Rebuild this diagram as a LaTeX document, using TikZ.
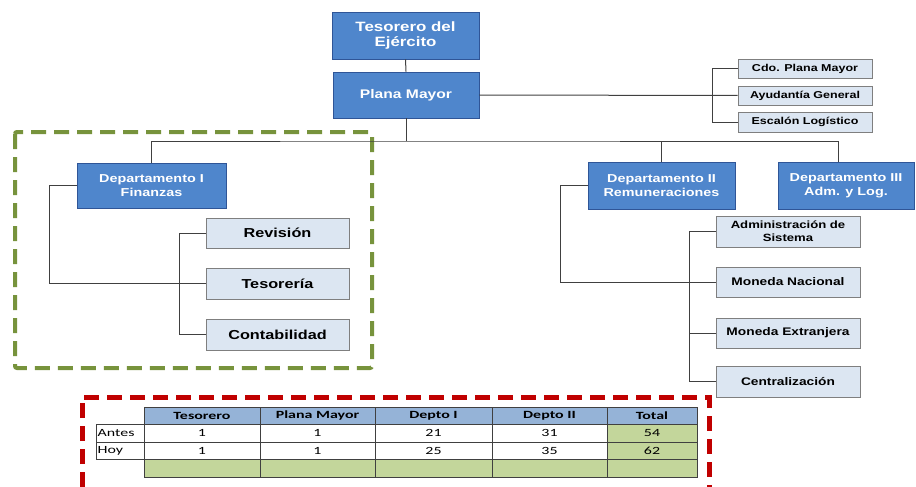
\documentclass[tikz,border=0pt]{standalone}
\usepackage{fontspec}
\setmainfont{Liberation Sans}[FakeStretch=1.25]
\newfontfamily\tabfont{Carlito}[FakeStretch=1.45]
\usetikzlibrary{calc}
\definecolor{boxblue}{HTML}{4F86CC}
\definecolor{boxblueedge}{HTML}{2F5597}
\definecolor{boxlight}{HTML}{DCE6F2}
\definecolor{boxgray}{HTML}{7F7F7F}
\definecolor{linkgray}{HTML}{404040}
\definecolor{grpgreen}{HTML}{77933C}
\definecolor{grpred}{HTML}{C00000}
\definecolor{headblue}{HTML}{95B3D7}
\definecolor{cellgreen}{HTML}{C3D69B}
\begin{document}
\begin{tikzpicture}[x=1pt,y=-1pt,
  bluebox/.style={draw=boxblueedge, fill=boxblue, line width=0.8pt, text=white,
    align=center, inner sep=0pt},
  lightbox/.style={draw=boxgray, fill=boxlight, line width=0.8pt, text=black,
    align=center, inner sep=0pt},
  link/.style={draw=linkgray, line width=1pt},
  grpbox/.style={line width=#1, dash pattern=on 15pt off 8pt, line join=miter},
  tabline/.style={draw=linkgray, line width=0.9pt},
  tabtxt/.style={font=\tabfont\fontsize{11}{13}\selectfont, inner sep=0pt},
  tabhead/.style={font=\tabfont\bfseries\fontsize{11}{13}\selectfont, inner sep=0pt}]
\useasboundingbox (0,0) rectangle (916,487);

% group frames
\draw[grpbox=4pt, grpgreen, rounded corners=2pt] (15,132) rectangle (372,368);
\draw[grpbox=5pt, grpred] (82,487) -- (82,397) -- (709,397) -- (709,487);

% head of the organisation
\node[bluebox, minimum width=147pt, minimum height=47pt,
  font=\bfseries\fontsize{13.5}{15}\selectfont] (tes) at (405.5,35.5) {Tesorero del\\Ejército};
\node[bluebox, minimum width=146pt, minimum height=46pt,
  font=\bfseries\fontsize{12.5}{15}\selectfont] (pm) at (406,95) {Plana Mayor};

% staff units
\node[lightbox, minimum width=134pt, minimum height=19pt,
  font=\bfseries\fontsize{10}{12}\selectfont] (cdo) at (805,68.5) {Cdo. Plana Mayor};
\node[lightbox, minimum width=134pt, minimum height=19pt,
  font=\bfseries\fontsize{10}{12}\selectfont] (ayu) at (805,95.5) {Ayudantía General};
\node[lightbox, minimum width=134pt, minimum height=20pt,
  font=\bfseries\fontsize{10}{12}\selectfont] (esc) at (805,122) {Escalón Logístico};

% departments
\node[bluebox, minimum width=149pt, minimum height=45pt,
  font=\bfseries\fontsize{11.5}{14}\selectfont] (d1) at (151.5,185.5) {Departamento I\\Finanzas};
\node[bluebox, minimum width=147pt, minimum height=47pt,
  font=\bfseries\fontsize{11.5}{14}\selectfont] (d2) at (661.5,185.5) {Departamento II\\Remuneraciones};
\node[bluebox, minimum width=136pt, minimum height=47pt,
  font=\bfseries\fontsize{11.5}{14}\selectfont] (d3) at (846,185.5) {Departamento III\\Adm. y Log.};
\coordinate (bus) at (406,141);
\coordinate (d3in) at (838,162);

% sections of Departamento I
\node[lightbox, minimum width=143pt, minimum height=30pt,
  font=\bfseries\fontsize{13}{15}\selectfont] (rev) at (277.5,233) {Revisión};
\node[lightbox, minimum width=143pt, minimum height=31pt,
  font=\bfseries\fontsize{13}{15}\selectfont] (tsr) at (277.5,283.5) {Tesorería};
\node[lightbox, minimum width=143pt, minimum height=31pt,
  font=\bfseries\fontsize{13}{15}\selectfont] (con) at (277.5,334.5) {Contabilidad};

% sections of Departamento II
\node[lightbox, minimum width=144pt, minimum height=31pt,
  font=\bfseries\fontsize{10.5}{13}\selectfont] (adm) at (788,231.5) {Administración de\\Sistema};
\node[lightbox, minimum width=144pt, minimum height=30pt,
  font=\bfseries\fontsize{11}{13}\selectfont] (mn) at (788,282) {Moneda Nacional};
\node[lightbox, minimum width=144pt, minimum height=30pt,
  font=\bfseries\fontsize{11}{13}\selectfont] (me) at (788,333) {Moneda Extranjera};
\node[lightbox, minimum width=144pt, minimum height=31pt,
  font=\bfseries\fontsize{11}{13}\selectfont] (cen) at (788,381.5) {Centralización};

% connectors
\draw[link] (tes.south) -- (pm.north);
\draw[link] (pm.south) -- (pm.south |- bus);
\draw[link] (d1.north) |- (bus) -| (d3in);
\draw[link] (d2.north) -- (d2.north |- bus);
\draw[link] (pm.east) -- (ayu.west);
\draw[link] (cdo.west) -- ++(-25,0) |- (esc.west);
\draw[link] (d1.west) -- ++(-27,0) |- (tsr.west);
\draw[link] (rev.west) -- ++(-26,0) |- (con.west);
\draw[link] (d2.west) -- ++(-27,0) |- (mn.west);
\draw[link] (adm.west) -- ++(-26,0) |- (cen.west);
\draw[link] (me.west) -- ++(-26,0);

% staffing table
\fill[headblue] (144,407) rectangle (697,424);
\fill[white] (96,424) rectangle (607,459);
\fill[cellgreen] (607,424) rectangle (697,459);
\fill[cellgreen] (144,459) rectangle (697,477);
\draw[tabline] (144,407) rectangle (697,477);
\draw[tabline] (96,424) rectangle (144,459);
\foreach \yy in {424,442,459} \draw[tabline] (96,\yy) -- (697,\yy);
\foreach \xx in {260,375,492,607} \draw[tabline] (\xx,407) -- (\xx,477);

\node[tabhead] (hTes) at (202,415.5) {Tesorero};
\node[tabhead] (hPm) at (317.5,415.5) {Plana Mayor};
\node[tabhead] (hD1) at (433.5,415.5) {Depto I};
\node[tabhead] (hD2) at (549.5,415.5) {Depto II};
\node[tabhead] (hTot) at (652,415.5) {Total};

\node[tabtxt, anchor=west] (lAntes) at (97.5,433) {Antes};
\node[tabtxt, anchor=west] (lHoy) at (97.5,450.5) {Hoy};

\node[tabtxt] (a1) at (202,433) {1};
\node[tabtxt] (a2) at (317.5,433) {1};
\node[tabtxt] (a3) at (433.5,433) {21};
\node[tabtxt] (a4) at (549.5,433) {31};
\node[tabtxt] (a5) at (652,433) {54};
\node[tabtxt] (b1) at (202,450.5) {1};
\node[tabtxt] (b2) at (317.5,450.5) {1};
\node[tabtxt] (b3) at (433.5,450.5) {25};
\node[tabtxt] (b4) at (549.5,450.5) {35};
\node[tabtxt] (b5) at (652,450.5) {62};
\end{tikzpicture}
\end{document}
